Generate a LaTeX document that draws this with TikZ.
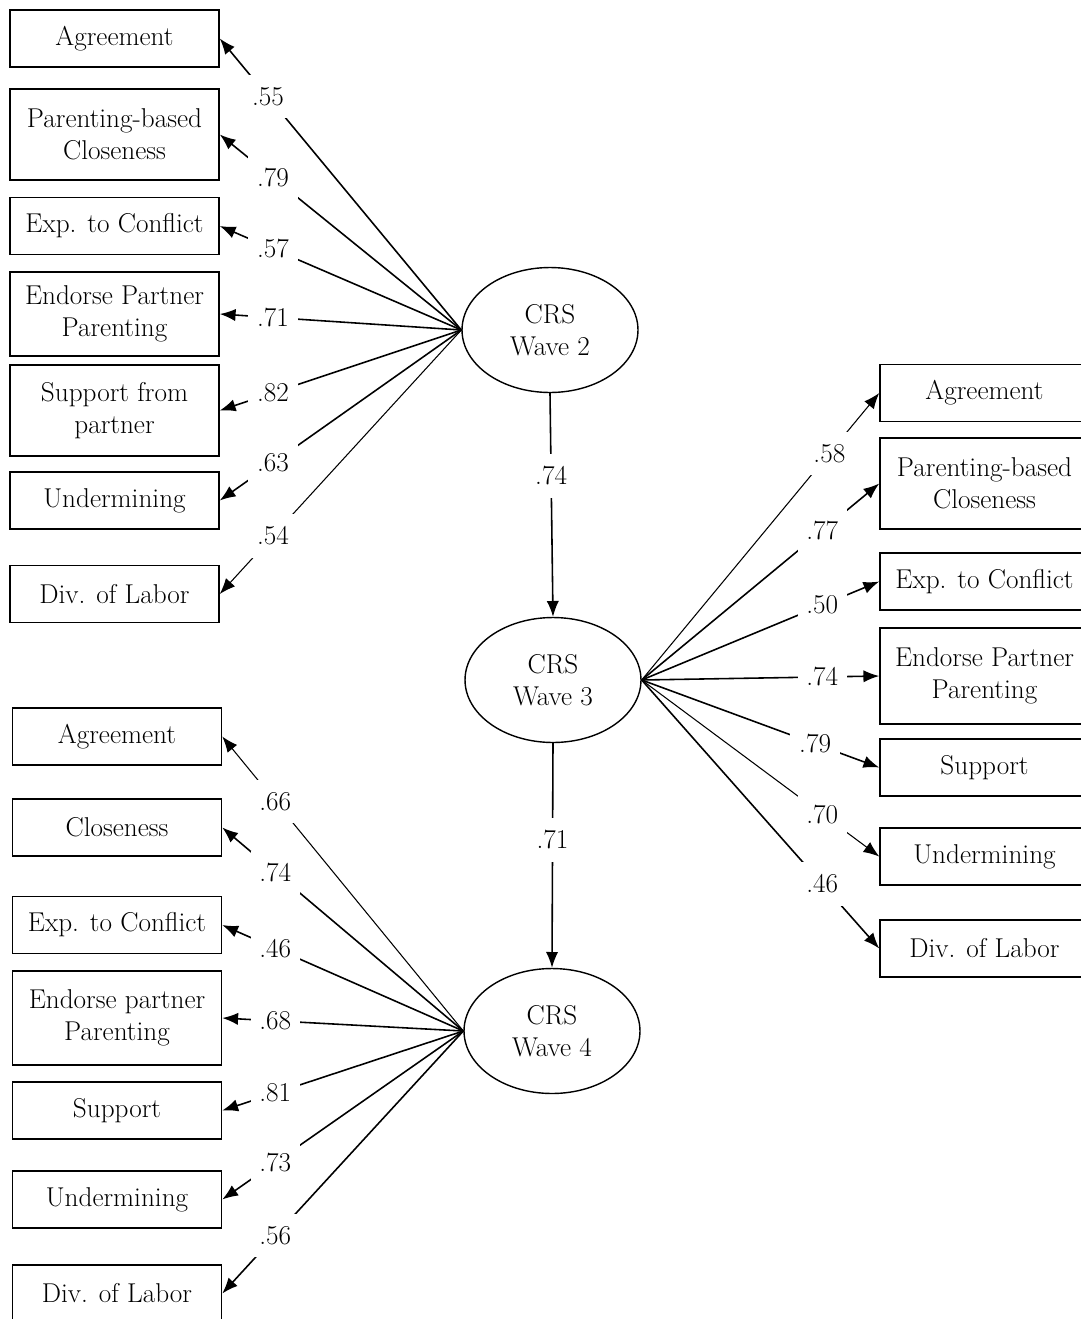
\documentclass[tikz,border=0pt]{standalone}
\usetikzlibrary{shapes.geometric,arrows.meta}
\begin{document}
\begin{tikzpicture}[x=0.02cm,y=-0.02cm]
        \tikzstyle{every node}+=[font=\fontsize{15.5}{18.3}\selectfont]
        \tikzstyle{indic}=[draw=black,line width=0.9pt,minimum width=4.18cm,minimum height=1.14cm,align=center,inner sep=0pt]
        \tikzstyle{latent}=[draw=black,line width=0.8pt,ellipse,minimum width=3.52cm,minimum height=2.5cm,align=center,inner sep=0pt]
        \tikzstyle{loading}=[black,line width=0.9pt,-{Latex[length=9pt,width=7pt]}]
        \tikzstyle{coef}=[fill=white,inner xsep=5pt,inner ysep=7pt,pos=0.78]
        \useasboundingbox (0,0) rectangle (1081,1319);
        \clip (0,0) rectangle (1081,1319);
        % latent factors
        \node [latent] (w2) at (550,330) {CRS\\Wave 2};
        \node [latent] (w3) at (553,680) {CRS\\Wave 3};
        \node [latent] (w4) at (552,1031) {CRS\\Wave 4};
        % wave 2 indicators
        \node [indic] (agr2) at (114.5,38.5) {Agreement};
        \node [indic,minimum height=1.82cm] (clo2) at (114.5,134.5) {Parenting-based\\Closeness};
        \node [indic] (con2) at (114.5,226) {Exp. to Conflict};
        \node [indic,minimum height=1.68cm] (end2) at (114.5,314) {Endorse Partner\\Parenting};
        \node [indic,minimum height=1.82cm] (sup2) at (114.5,410.5) {Support from\\partner};
        \node [indic] (und2) at (114.5,500.5) {Undermining};
        \node [indic] (div2) at (114.5,594) {Div. of Labor};
        % wave 3 indicators
        \node [indic] (agr3) at (984.5,393) {Agreement};
        \node [indic,minimum height=1.82cm] (clo3) at (984.5,483.5) {Parenting-based\\Closeness};
        \node [indic] (con3) at (984.5,581.5) {Exp. to Conflict};
        \node [indic,minimum height=1.92cm] (end3) at (984.5,676) {Endorse Partner\\Parenting};
        \node [indic] (sup3) at (984.5,767.5) {Support};
        \node [indic] (und3) at (984.5,856.5) {Undermining};
        \node [indic] (div3) at (984.5,948.5) {Div. of Labor};
        % wave 4 indicators
        \node [indic] (agr4) at (117,736.5) {Agreement};
        \node [indic] (clo4) at (117,827.5) {Closeness};
        \node [indic] (con4) at (117,925) {Exp. to Conflict};
        \node [indic,minimum height=1.88cm] (end4) at (117,1018) {Endorse partner\\Parenting};
        \node [indic] (sup4) at (117,1110.5) {Support};
        \node [indic] (und4) at (117,1199.5) {Undermining};
        \node [indic] (div4) at (117,1293.5) {Div. of Labor};
        % stability paths
        \draw [loading] (w2.south) -- node [coef,pos=0.37] {.74} (w3.north);
        \draw [loading] (w3.south) -- node [coef,pos=0.43] {.71} (w4.north);
        % wave 2 loadings
        \draw [loading] (w2.west) -- node [coef,pos=0.80] {.55} (agr2.east);
        \draw [loading] (w2.west) -- node [coef] {.79} (clo2.east);
        \draw [loading] (w2.west) -- node [coef] {.57} (con2.east);
        \draw [loading] (w2.west) -- node [coef] {.71} (end2.east);
        \draw [loading] (w2.west) -- node [coef] {.82} (sup2.east);
        \draw [loading] (w2.west) -- node [coef] {.63} (und2.east);
        \draw [loading,line width=0.6pt] (w2.west) -- node [coef] {.54} (div2.east);
        % wave 3 loadings
        \draw [loading,line width=0.6pt] (w3.east) -- node [coef,pos=0.79] {.58} (agr3.west);
        \draw [loading] (w3.east) -- node [coef,pos=0.76] {.77} (clo3.west);
        \draw [loading] (w3.east) -- node [coef,pos=0.76] {.50} (con3.west);
        \draw [loading] (w3.east) -- node [coef,pos=0.76] {.74} (end3.west);
        \draw [loading] (w3.east) -- node [coef,pos=0.73] {.79} (sup3.west);
        \draw [loading,line width=0.6pt] (w3.east) -- node [coef,pos=0.76] {.70} (und3.west);
        \draw [loading] (w3.east) -- node [coef,pos=0.76] {.46} (div3.west);
        % wave 4 loadings
        \draw [loading,line width=0.6pt] (w4.west) -- node [coef] {.66} (agr4.east);
        \draw [loading] (w4.west) -- node [coef] {.74} (clo4.east);
        \draw [loading] (w4.west) -- node [coef] {.46} (con4.east);
        \draw [loading] (w4.west) -- node [coef] {.68} (end4.east);
        \draw [loading] (w4.west) -- node [coef] {.81} (sup4.east);
        \draw [loading] (w4.west) -- node [coef] {.73} (und4.east);
        \draw [loading] (w4.west) -- node [coef] {.56} (div4.east);
\end{tikzpicture}
\end{document}
